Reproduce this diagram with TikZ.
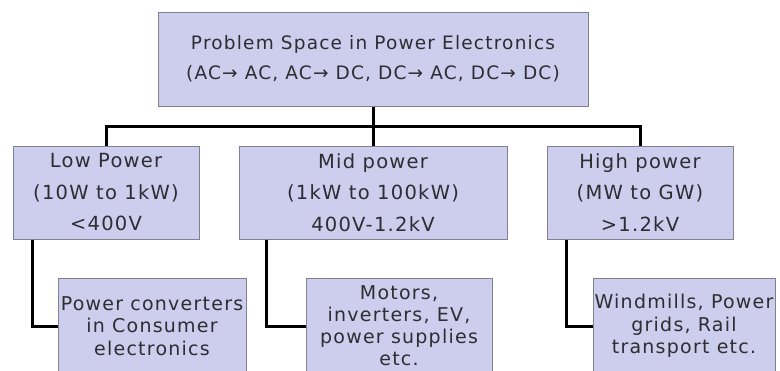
\documentclass[tikz,border=0pt]{standalone}
\usepackage{fontspec}
\setmainfont{DejaVu Sans}
\newfontfamily\boxfont[LetterSpace=6.5]{DejaVu Sans}
\usepackage{xcolor}
\usepackage{tikz}
\usetikzlibrary{positioning, calc}
\definecolor{boxfill}{RGB}{205,205,238}
\definecolor{boxline}{RGB}{128,128,145}
\definecolor{boxtext}{RGB}{45,45,50}

\begin{document}
\begin{tikzpicture}[x=1pt, y=-1pt,
    box/.style={draw=boxline, fill=boxfill, line width=1pt, inner sep=0pt, align=center, text=boxtext},
    link/.style={draw=black, line width=3pt}]
    \useasboundingbox (0, 0) rectangle (780, 370);
    \clip (0, 0) rectangle (780, 370);

    % Top box
    \node[box, minimum width=430pt, minimum height=94pt, font=\boxfont\fontsize{18.5}{30}\selectfont] (space) at (373, 59)
        {Problem Space in Power Electronics\\(AC→ AC, AC→ DC, DC→ AC, DC→ DC)};

    % Power ranges
    \node[box, minimum width=186pt, minimum height=93pt, font=\boxfont\fontsize{19.5}{31.5}\selectfont] (low) at (106, 192.5)
        {Low Power\\(10W to 1kW)\\<400V};
    \node[box, minimum width=268pt, minimum height=93pt, font=\boxfont\fontsize{19.5}{31.5}\selectfont] (mid) at (373, 192.5)
        {Mid power\\(1kW to 100kW)\\400V-1.2kV};
    \node[box, minimum width=186pt, minimum height=93pt, font=\boxfont\fontsize{19.5}{31.5}\selectfont] (high) at (640, 192.5)
        {High power\\(MW to GW)\\>1.2kV};

    % Applications
    \node[box, minimum width=188pt, minimum height=96pt, font=\boxfont\fontsize{19}{22.5}\selectfont] (lowapp) at (152, 326)
        {Power converters\\in Consumer\\electronics};
    \node[box, minimum width=186pt, minimum height=96pt, font=\boxfont\fontsize{19}{22}\selectfont] (midapp) at (399, 326)
        {Motors,\\inverters, EV,\\power supplies\\etc.};
    \node[box, minimum width=182pt, minimum height=96pt, font=\boxfont\fontsize{19}{22.5}\selectfont] (highapp) at (684, 326)
        {Windmills, Power\\grids, Rail\\transport etc.};

    % Tree links
    \coordinate (bus) at (373, 126);
    \draw[link] (space.south) -- (mid.north);
    \draw[link] (low.north) |- (bus) -| (high.north);
    \draw[link] ([xshift=20pt]low.south west) |- (lowapp.west);
    \draw[link] ([xshift=28pt]mid.south west) |- (midapp.west);
    \draw[link] ([xshift=20pt]high.south west) |- (highapp.west);
\end{tikzpicture}
\end{document}
